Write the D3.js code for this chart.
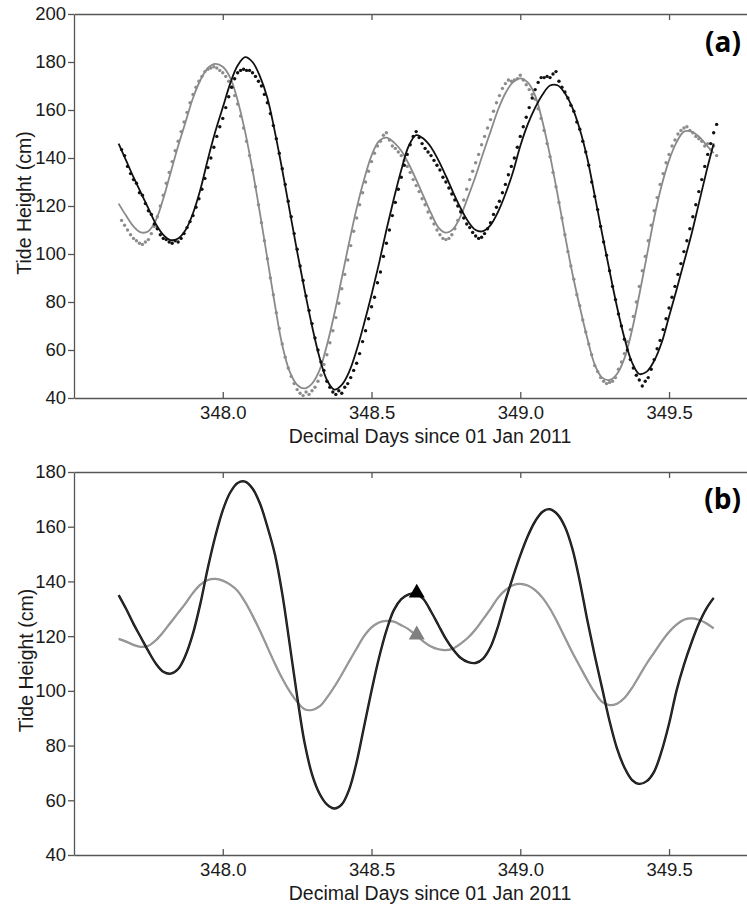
<!DOCTYPE html>
<html>
<head>
<meta charset="utf-8">
<script src="https://cdnjs.cloudflare.com/ajax/libs/d3/7.8.5/d3.min.js"></script>
<style>
  body { margin: 0; background: #fff; }
  svg { display: block; font-family: "Liberation Sans", Arial, sans-serif; }
</style>
</head>
<body>
<svg id="chart" width="747" height="905"></svg>
<script>
// sample times (decimal days since 01 Jan 2011)
const modelStartDay = 347.65, modelStepDay = 0.025;
const obsStartDay = 347.66, obsStepDay = 0.01;

const xTicks = [348.0, 348.5, 349.0, 349.5];
const yTicksA = [40, 60, 80, 100, 120, 140, 160, 180, 200];
const yTicksB = [40, 60, 80, 100, 120, 140, 160, 180];

// panel (a): modelled tide (lines) and observed tide (dots), cm
const modelBlackA = [
  146, 139, 132, 125.5, 119, 112.5, 108, 105.8, 106.5, 110,
  117, 127, 139.5, 151, 161, 171, 178.5, 182, 180, 174,
  165, 151, 135, 118, 101, 85, 70, 57, 47.5, 43.5,
  45.5, 51, 60, 71, 83, 96, 110, 123, 135, 145,
  149.5, 148, 144.5, 139, 132.5, 125.5, 119, 113.5, 110, 109.5,
  112, 117.5, 125, 134, 145, 154, 161, 166.5, 170.2, 170.3,
  167, 161, 152, 140, 124.5, 108.5, 93, 78, 65, 55,
  50, 51, 55.5, 63, 74, 85, 96.5, 108, 121, 134, 146
];
const modelGrayA = [
  121, 116, 111.5, 109, 109.5, 114, 123, 134, 145, 155,
  165, 172.5, 177.5, 179.2, 178, 173.5, 164, 151, 135, 117,
  98, 79, 62, 51, 45.5, 44, 46, 51.5, 62, 75,
  90, 105, 119, 131, 141, 147, 148.5, 146.5, 143, 137.5,
  131, 124, 117, 111, 108.9, 110.5, 116, 124, 132.5, 142,
  151, 160, 167, 171.5, 173.2, 171.5, 166, 155, 141, 125,
  108, 92, 78, 65, 54, 48.5, 47.5, 50, 56.5, 68,
  83, 99, 115, 128.5, 139, 146.5, 151, 151, 149, 145.5, 142
];
const obsBlackA = [
  143.5, 141, 136.5, 133.5, 131, 129.5, 125.5, 124.5, 121, 118,
  116.5, 112.5, 110.5, 108, 106.5, 106, 105, 104.5, 105.5, 105,
  106.5, 108.5, 111, 113.5, 116, 119.5, 123, 127, 131.5, 136,
  140, 144.5, 149, 153, 156.5, 161, 165.5, 169.5, 173, 175.5,
  176.5, 177, 176.5, 176.5, 175.5, 174, 172, 170, 166.5, 163,
  158.5, 153.5, 148, 142, 135.5, 129, 122, 115.5, 108.5, 102,
  95, 89, 82.5, 76.5, 71, 65, 60, 55, 51.5, 47,
  44.5, 42.5, 41.5, 43, 42, 44.5, 46, 48.5, 51.5, 54.5,
  58.5, 63.5, 68, 73, 78, 82, 88, 92.5, 99, 104.5,
  110, 116, 121.5, 127, 132, 137, 141.5, 145.5, 149, 151,
  148.5, 146, 144, 142.5, 141, 139, 137, 135, 132, 130,
  127.5, 125, 122.5, 120, 117.5, 115, 112.5, 111, 109, 107.5,
  106.5, 107, 108.5, 110.5, 113, 116.5, 119.5, 122, 125.5, 129,
  133, 136.5, 140, 144.5, 149, 153, 157, 161, 165, 168.5,
  171.5, 173.5, 173.5, 174, 173.5, 175, 176, 172, 169.5, 167.5,
  165, 162, 159.5, 155, 152, 147, 142.5, 137, 130, 124,
  118.5, 111.5, 105, 99.5, 93, 86.5, 81, 75, 70, 64.5,
  60, 56, 52.5, 49.5, 47.5, 45, 47, 48.5, 52, 56,
  60.5, 64, 68.5, 73, 77.5, 82, 86.5, 91.5, 96, 101,
  105.5, 110.5, 115.5, 120.5, 126, 131, 136.5, 141.5, 146, 150.5,
  154
];
const obsGrayA = [
  114, 112, 110, 108, 106.5, 105.5, 104.5, 104, 105, 106,
  108.5, 111.5, 115.5, 120, 124.5, 129.5, 134, 138.5, 143, 147,
  151, 155, 159, 163, 166.5, 169.5, 172, 174, 176, 177,
  177.5, 178, 177.5, 176.5, 175.5, 174, 172, 169.5, 166, 162.5,
  157.5, 152.5, 147, 141, 135, 128, 120.5, 113, 105.5, 98,
  90, 83, 75.5, 69, 62.5, 57, 52.5, 49, 46, 43.5,
  42, 41, 42.5, 41.5, 43, 44.5, 47, 49.5, 54, 58,
  63, 68, 73.5, 79.5, 85.5, 91.5, 97.5, 103.5, 109.5, 115,
  120.5, 125.5, 130, 134.5, 138.5, 142, 145, 147, 149.5, 150.5,
  147.5, 145, 144, 142.5, 141, 139, 136.5, 134, 131, 128.5,
  126, 123, 120.5, 117.5, 115, 112.5, 110, 108, 106.5, 106,
  106.5, 108, 110.5, 114, 118, 122.5, 127, 131, 134.5, 138,
  141.5, 145.5, 149, 152.5, 156, 159.5, 163, 166, 169, 171,
  172.5, 172, 172.5, 173, 174.5, 172.5, 170.5, 168.5, 166.5, 164.5,
  160.5, 156.5, 151.5, 146, 140.5, 134, 128, 121.5, 115, 108,
  101, 95, 89.5, 83, 78.5, 72.5, 67.5, 62.5, 58, 53.5,
  51, 48.5, 47, 46, 46.5, 47, 48.5, 52, 55, 58.5,
  63.5, 68.5, 74, 80, 86.5, 93, 99, 105.5, 112, 118,
  123.5, 129, 133.5, 138, 141.5, 145, 147.5, 150, 151.5, 152.5,
  153, 151.5, 150.5, 149, 148, 147, 145, 146, 143.5, 145,
  141
];

// panel (b): modelled tide, cm
const modelBlackB = [
  135, 130, 124.5, 119.5, 114.5, 110, 107, 106.3, 108, 113,
  121, 132, 145, 156.5, 166, 172.5, 176, 176.5, 174, 168.5,
  160, 150, 135.5, 117, 98, 81, 69.5, 62.5, 58.5, 57,
  58.5, 64, 74, 87, 100, 112, 122, 129.5, 133.5, 135.3,
  135.5, 133.5, 129, 124, 119, 115, 112, 110.5, 110.2, 111.8,
  116, 123.5, 133, 141.5, 149.5, 156.5, 162, 165.5, 166.4, 164.5,
  160, 152, 140, 126, 113, 101, 89, 79, 72, 67.5,
  66, 67, 70.5, 78, 88, 100, 109.5, 117.5, 124.5, 130, 134
];
const modelGrayB = [
  119, 118, 116.8, 116.1, 116.5, 118.5, 121.5, 125, 128.5, 132,
  135.8, 138.8, 140.5, 140.9, 140.3, 138.8, 136.5, 132.5, 127.5, 122,
  116, 110, 104.5, 99.8, 96, 93.3, 93, 94.3, 97.5, 101.5,
  106, 110.8, 115.5, 120, 123.2, 125, 125.6, 125.3, 124, 122.5,
  120.3, 118, 116.2, 115.2, 114.9, 115.5, 117.3, 119.5, 122.5, 126.2,
  130, 134, 136.8, 138.6, 139.1, 138.5, 136.8, 134, 130, 125,
  119.5, 114, 109, 104, 99.5, 96, 94.8, 95.3, 97.4, 101,
  105.5, 110, 114, 118, 121.5, 124.2, 126, 126.5, 126, 124.7, 122.8
];
const markerDaysB = [348.652, 348.652];
const markerHeightsB = [135.8, 120.5];

const svg = d3.select('#chart');
const x = d3.scaleLinear().domain([347.5, 349.762]).range([74, 747]);

const withDays = (vals, start, step) => vals.map((v, i) => [start + i * step, v]);

function styleAxis(sel) {
  sel.selectAll('path, line').attr('stroke', '#555').attr('stroke-width', 1.3);
  sel.selectAll('text').attr('font-size', 18.5).attr('fill', '#1a1a1a')
    .attr('font-family', '"Liberation Sans", Arial, sans-serif');
}

function drawFrame(p) {
  const y = d3.scaleLinear().domain(p.yDomain).range([p.bottom, p.top]);

  // top border with inward ticks
  svg.append('g')
    .attr('transform', 'translate(0,' + p.top + ')')
    .call(d3.axisTop(x).tickValues(xTicks).tickSizeInner(-6).tickSizeOuter(0).tickFormat(''))
    .call(styleAxis);

  // bottom axis with inward ticks
  svg.append('g')
    .attr('transform', 'translate(0,' + p.bottom + ')')
    .call(d3.axisBottom(x).tickValues(xTicks).tickSizeInner(-6).tickSizeOuter(0)
      .tickPadding(8).tickFormat(d3.format('.1f')))
    .call(styleAxis);

  // left axis
  svg.append('g')
    .attr('transform', 'translate(' + x.range()[0] + ',0)')
    .call(d3.axisLeft(y).tickValues(p.yTicks).tickSize(6).tickSizeOuter(0).tickPadding(2))
    .call(styleAxis);

  svg.append('text')
    .attr('transform', 'translate(' + p.yLabelX + ',' + ((p.top + p.bottom) / 2 - 3) + ') rotate(-90)')
    .attr('text-anchor', 'middle').attr('dy', '0.35em')
    .attr('font-size', 19.5).attr('fill', '#1a1a1a')
    .text('Tide Height (cm)');

  svg.append('text')
    .attr('x', 430).attr('y', p.bottom + 45)
    .attr('text-anchor', 'middle')
    .attr('font-size', 19.5).attr('fill', '#1a1a1a')
    .text('Decimal Days since 01 Jan 2011');

  svg.append('text')
    .attr('x', 741).attr('y', p.top + p.tagDy)
    .attr('text-anchor', 'end')
    .attr('font-family', '"Open Sans", "Liberation Sans", sans-serif')
    .attr('font-weight', 700).attr('font-size', 28).attr('fill', '#000')
    .text(p.tag);

  return y;
}

// ---- panel (a)
const yA = drawFrame({ top: 14, bottom: 398, yDomain: [40, 200], yTicks: yTicksA, yLabelX: 24, tag: '(a)', tagDy: 38 });
const lineA = d3.line().x(d => x(d[0])).y(d => yA(d[1])).curve(d3.curveCatmullRom.alpha(0.5));

svg.append('path')
  .datum(withDays(modelGrayA, modelStartDay, modelStepDay))
  .attr('d', lineA).attr('fill', 'none').attr('stroke', '#8a8a8a').attr('stroke-width', 1.8);

svg.append('g').selectAll('circle')
  .data(withDays(obsGrayA, obsStartDay, obsStepDay))
  .enter().append('circle')
  .attr('cx', d => x(d[0])).attr('cy', d => yA(d[1])).attr('r', 1.7)
  .attr('fill', '#8c8c8c');

svg.append('g').selectAll('circle')
  .data(withDays(obsBlackA, obsStartDay, obsStepDay))
  .enter().append('circle')
  .attr('cx', d => x(d[0])).attr('cy', d => yA(d[1])).attr('r', 1.7)
  .attr('fill', '#111');

svg.append('path')
  .datum(withDays(modelBlackA, modelStartDay, modelStepDay))
  .attr('d', lineA).attr('fill', 'none').attr('stroke', '#111').attr('stroke-width', 1.8);

// ---- panel (b)
const yB = drawFrame({ top: 472, bottom: 855, yDomain: [40, 180], yTicks: yTicksB, yLabelX: 26, tag: '(b)', tagDy: 37 });
const lineB = d3.line().x(d => x(d[0])).y(d => yB(d[1])).curve(d3.curveCatmullRom.alpha(0.5));

const grayB = withDays(modelGrayB, modelStartDay, modelStepDay);
svg.append('path').datum(grayB)
  .attr('d', lineB).attr('fill', 'none').attr('stroke', '#8c8c8c').attr('stroke-width', 2.2);
svg.append('path').datum(grayB)
  .attr('d', lineB).attr('fill', 'none').attr('stroke', '#b0b0b0').attr('stroke-width', 0.5);

const blackB = withDays(modelBlackB, modelStartDay, modelStepDay);
svg.append('path').datum(blackB)
  .attr('d', lineB).attr('fill', 'none').attr('stroke', '#111').attr('stroke-width', 2.4);
svg.append('path').datum(blackB)
  .attr('d', lineB).attr('fill', 'none').attr('stroke', '#555').attr('stroke-width', 0.5);

// tide markers
svg.append('g').selectAll('path')
  .data(markerDaysB.map((d, i) => [d, markerHeightsB[i]]))
  .enter().append('path')
  .attr('d', d3.symbol(d3.symbolTriangle, 110))
  .attr('transform', d => 'translate(' + x(d[0]) + ',' + yB(d[1]) + ')')
  .attr('fill', (d, i) => i === 0 ? '#000' : '#808080');
</script>
</body>
</html>
